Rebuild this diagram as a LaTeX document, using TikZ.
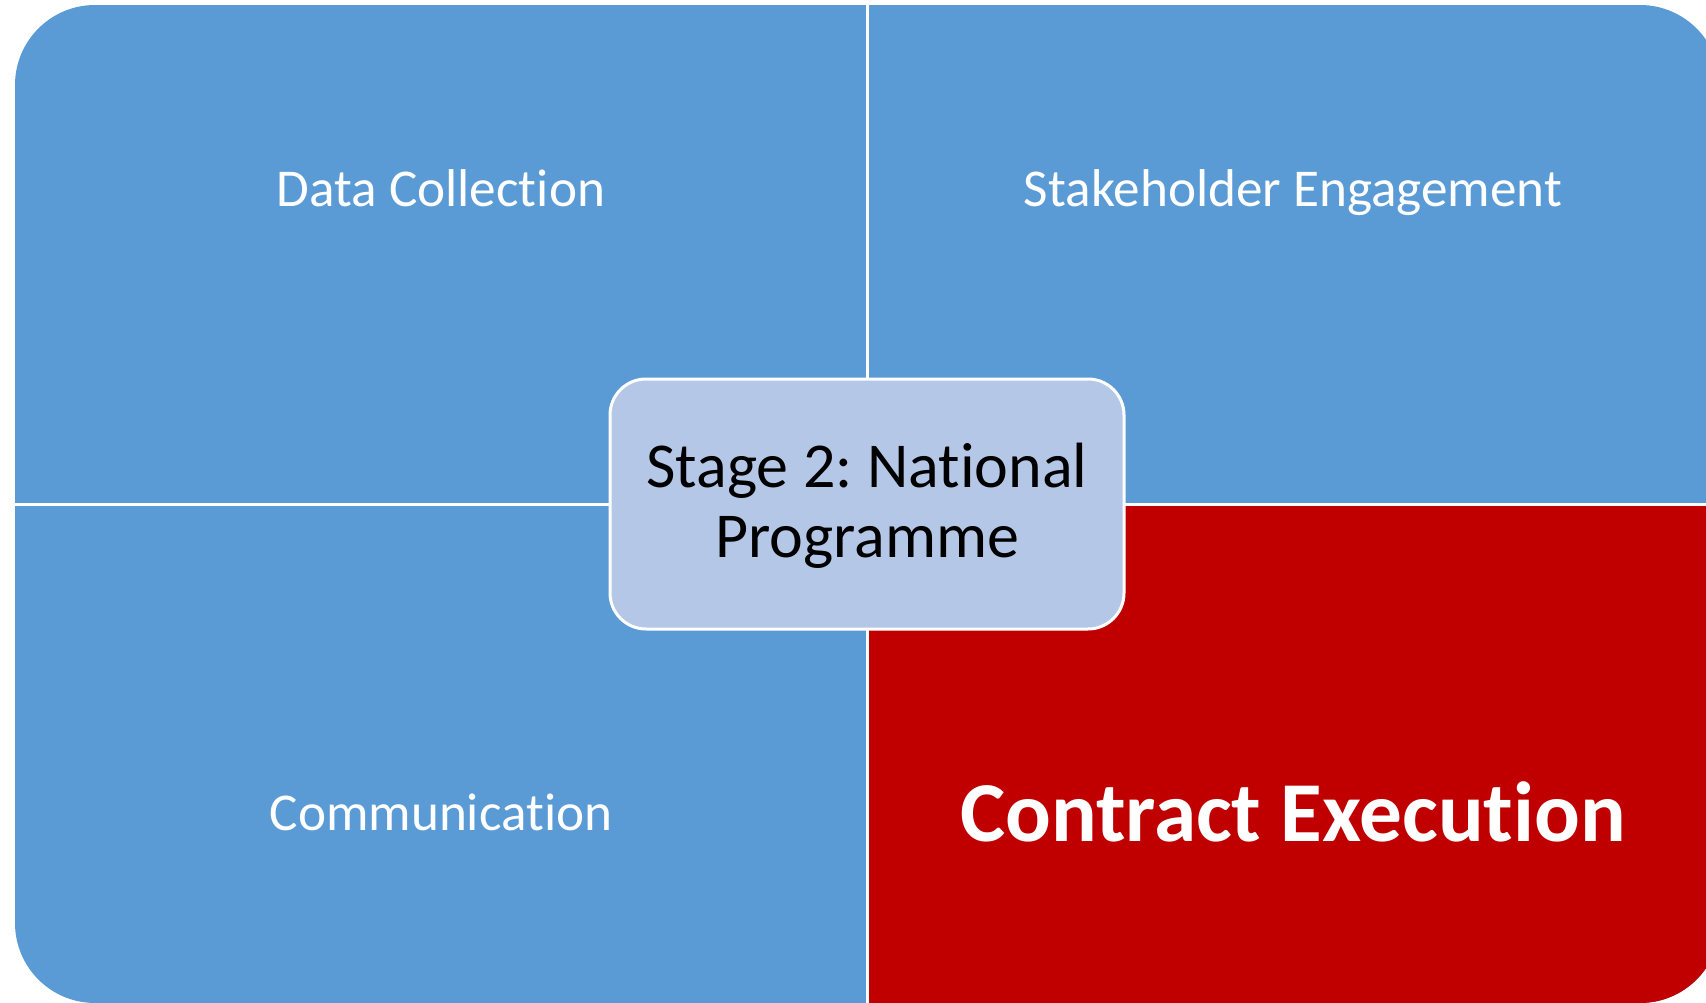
\documentclass[tikz,border=0pt]{standalone}
\usepackage{fontspec}
\setmainfont{Carlito}[Ligatures=NoCommon]
\frenchspacing
\definecolor{qblue}{HTML}{5B9BD5}
\definecolor{qred}{HTML}{C00000}
\definecolor{qlight}{HTML}{B4C7E7}
\tikzset{
  quadlabel/.style={text=white, inner sep=0pt, anchor=base, font=\fontsize{53.2}{62}\selectfont},
  boldlabel/.style={text=white, inner sep=0pt, anchor=base, font=\fontsize{85.3}{100}\selectfont\bfseries},
  hubbox/.style={rectangle, rounded corners=36pt, fill=qlight, draw=white, line width=3pt,
    minimum width=514pt, minimum height=250pt, inner sep=0pt},
  hubtext/.style={text=black, inner sep=0pt, anchor=base, align=flush center, text width=514pt,
    font=\fontsize{64}{70}\selectfont}
}
\begin{document}
\begin{tikzpicture}[x=1pt,y=-1pt]
\useasboundingbox (0,0) rectangle (1706,1002);
\begin{scope}
  \clip (0,0) rectangle (1706,1002);
  \begin{scope}
    \clip[rounded corners=80pt] (15,5) rectangle (1720,1003);
    \fill[qblue] (15,5) rectangle (1720,1003);
    \fill[qred] (867,504) rectangle (1720,1003);
    \draw[white, line width=3pt] (867,0) -- (867,1010);
    \draw[white, line width=3pt] (0,504) -- (1730,504);
  \end{scope}
\end{scope}
\node[quadlabel] (dc) at (441,206) {Data Collection};
\node[quadlabel] (se) at (1293,206) {Stakeholder Engagement};
\node[quadlabel] (cm) at (441,830) {Communication};
\node[boldlabel] (ce) at (1293,841) {Contract Execution};
\node[hubbox] (hub) at (867,504) {};
\node[hubtext] (hubt) at (867,487) {Stage 2: National\\Programme};
\end{tikzpicture}
\end{document}
